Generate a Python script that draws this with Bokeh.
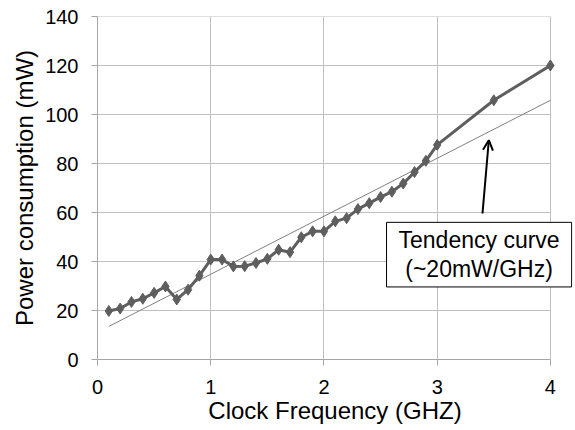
from bokeh.plotting import figure
from bokeh.models import Range1d, FixedTicker, Label, Arrow, OpenHead
from bokeh.embed import file_html
from bokeh.resources import INLINE

# Data
freq_ghz = [0.1, 0.2, 0.3, 0.4, 0.5, 0.6, 0.7, 0.8, 0.9, 1.0,
            1.1, 1.2, 1.3, 1.4, 1.5, 1.6, 1.7, 1.8, 1.9, 2.0,
            2.1, 2.2, 2.3, 2.4, 2.5, 2.6, 2.7, 2.8, 2.9, 3.0,
            3.5, 4.0]
power_mw = [19.8, 20.8, 23.5, 24.8, 27.2, 29.8, 24.5, 28.5, 34.2, 40.8,
            40.8, 38.0, 38.1, 39.4, 41.1, 44.8, 43.8, 49.9, 52.3, 52.3,
            56.4, 57.7, 61.4, 63.8, 66.3, 68.5, 71.8, 76.5, 81.1, 87.6,
            105.8, 120.0]
trend_x = [0.1, 4.0]
trend_y = [13.5, 105.8]
x_ticks = [0, 1, 2, 3, 4]
y_ticks = [0, 20, 40, 60, 80, 100, 120, 140]

FONT = "Liberation Sans"
GRID = "#C0C0C0"
AXIS = "#A6A6A6"
SERIES = "#5E5E5E"

x_min, x_max = x_ticks[0], x_ticks[-1]

p = figure(width=575, height=430, output_backend="svg", toolbar_location=None,
           x_range=Range1d(0, 4.195), y_range=Range1d(0, 140),
           min_border_left=97, min_border_right=3, min_border_top=16,
           min_border_bottom=71)
p.outline_line_color = None
p.background_fill_color = "white"
p.border_fill_color = "white"

for ax in (p.xaxis[0], p.yaxis[0]):
    ax.axis_line_color = AXIS
    ax.axis_line_width = 1
    ax.major_tick_line_color = AXIS
    ax.major_tick_out = 6
    ax.major_tick_in = 0
    ax.minor_tick_line_color = None
    ax.major_label_text_font = FONT
    ax.major_label_text_font_size = "20px"
    ax.major_label_text_color = "black"
    ax.axis_label_text_font = FONT
    ax.axis_label_text_font_size = "24px"
    ax.axis_label_text_font_style = "normal"
    ax.axis_label_text_color = "black"

p.xaxis.ticker = FixedTicker(ticks=x_ticks)
p.xaxis.bounds = (x_min, x_max)
p.yaxis.ticker = FixedTicker(ticks=y_ticks)
p.xaxis.axis_label = "Clock Frequency (GHZ)"
p.yaxis.axis_label = "Power consumption (mW)"
p.xaxis.major_label_standoff = 14
p.xaxis.axis_label_standoff = 0
p.yaxis.major_label_standoff = 13
p.yaxis.axis_label_standoff = 4

# vertical grid from the library; horizontal grid limited to the 0..4 span
p.xgrid.ticker = FixedTicker(ticks=x_ticks)
p.xgrid.grid_line_color = GRID
p.xgrid.grid_line_width = 1
p.ygrid.grid_line_color = None
gy = y_ticks[1:]
p.segment(x0=[x_min] * len(gy), y0=gy, x1=[x_max] * len(gy), y1=gy,
          line_color=GRID, line_width=1)

# Tendency line
p.line(trend_x, trend_y, line_color="#808080", line_width=1)

# Measured series
p.line(freq_ghz, power_mw, line_color=SERIES, line_width=3, line_join="round")
p.scatter(freq_ghz, power_mw, marker="diamond", size=11,
          fill_color=SERIES, line_color=SERIES)

# Arrow pointing at the tendency line
p.add_layout(Arrow(end=OpenHead(line_color="black", line_width=2, size=10),
                   x_start=3.40, y_start=59.6, x_end=3.456, y_end=89.5,
                   line_color="black", line_width=2))

# Annotation box
lab = Label(x=3.37, y=42.8, text="Tendency curve\n(~20mW/GHz)",
            text_font=FONT, text_font_size="23px", text_color="black",
            text_align="center", text_baseline="middle",
            border_line_color="black", border_line_width=1,
            background_fill_color="white", padding=[12, 5],
            text_line_height=1.1)
p.add_layout(lab)

open("out.html", "w").write(file_html(p, INLINE))
